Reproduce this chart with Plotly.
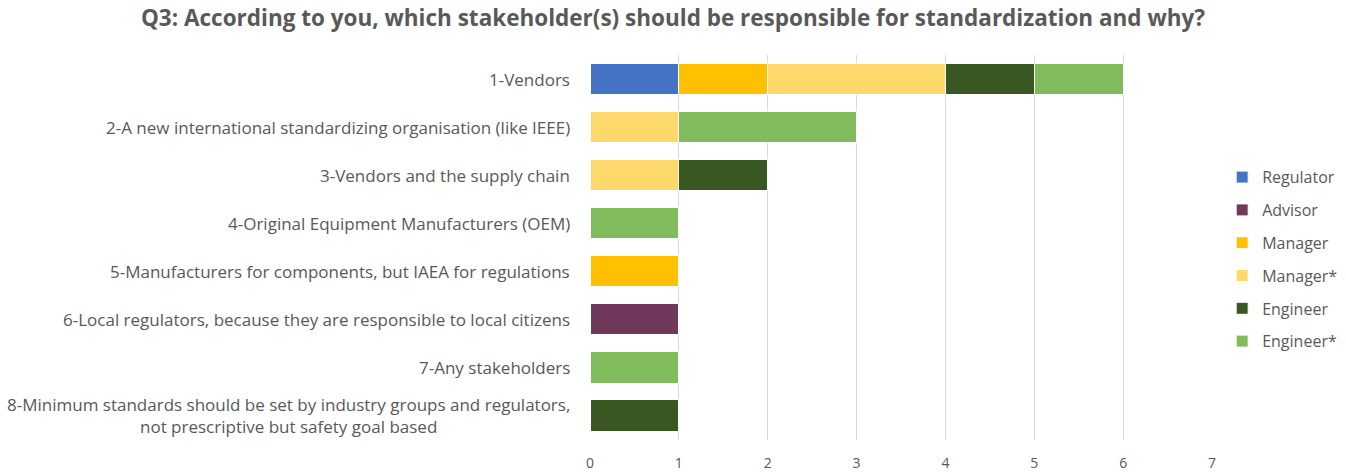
import plotly.graph_objects as go

categories = [
    "1-Vendors",
    "2-A new international standardizing organisation (like IEEE)",
    "3-Vendors and the supply chain",
    "4-Original Equipment Manufacturers (OEM)",
    "5-Manufacturers for components, but IAEA for regulations",
    "6-Local regulators, because they are responsible to local citizens",
    "7-Any stakeholders",
    "8-Minimum standards should be set by industry groups and regulators,<br>not prescriptive but safety goal based",
]

regulator = [1, 0, 0, 0, 0, 0, 0, 0]
advisor = [0, 0, 0, 0, 0, 1, 0, 0]
manager = [1, 0, 0, 0, 1, 0, 0, 0]
manager_star = [2, 1, 1, 0, 0, 0, 0, 0]
engineer = [1, 0, 1, 0, 0, 0, 0, 1]
engineer_star = [1, 2, 0, 1, 0, 0, 1, 0]

series = [
    ("Regulator", regulator, "#4472C4"),
    ("Advisor", advisor, "#70385A"),
    ("Manager", manager, "#FFC000"),
    ("Manager*", manager_star, "#FDD96B"),
    ("Engineer", engineer, "#385723"),
    ("Engineer*", engineer_star, "#80BC5B"),
]

x_ticks = [0, 1, 2, 3, 4, 5, 6, 7]

FONT = "Open Sans"
GREY = "#595959"

fig = go.Figure()
for name, vals, color in series:
    fig.add_trace(go.Bar(
        y=categories, x=vals, name=name, orientation="h", legendgroup=name,
        marker=dict(color=color, line=dict(color="white", width=1)),
    ))

# Category labels as centred text blocks to the left of the axis
for cat in categories:
    fig.add_annotation(
        x=0, xref="paper", y=cat, yref="y", text=cat, showarrow=False,
        xanchor="right", align="center", xshift=-18,
        font=dict(family=FONT, size=17, color=GREY),
    )

fig.update_layout(
    width=1346, height=473,
    barmode="stack", bargap=0.35,
    plot_bgcolor="white", paper_bgcolor="white",
    margin=dict(l=590, r=134, t=55, b=33, autoexpand=False),
    title=dict(
        text="<b>Q3: According to you, which stakeholder(s) should be responsible for standardization and why?</b>",
        x=0.5, xref="container", xanchor="center", y=0.962, yanchor="middle",
        font=dict(family=FONT, size=22.5, color=GREY),
    ),
    legend=dict(
        x=0.908, xref="container", y=0.452, yref="container",
        xanchor="left", yanchor="middle",
        font=dict(family=FONT, size=16, color=GREY),
        traceorder="grouped", tracegroupgap=9, itemwidth=30,
    ),
    xaxis=dict(
        range=[0, 7], tickvals=x_ticks, showgrid=True, gridcolor="#D9D9D9",
        gridwidth=1, zeroline=False, showline=False,
        tickfont=dict(family=FONT, size=14, color=GREY), ticks="",
        ticklabelstandoff=13,
    ),
    yaxis=dict(
        autorange="reversed", showticklabels=False, showgrid=False,
        zeroline=False, showline=False, ticks="",
    ),
)

fig.write_html("out.html")
